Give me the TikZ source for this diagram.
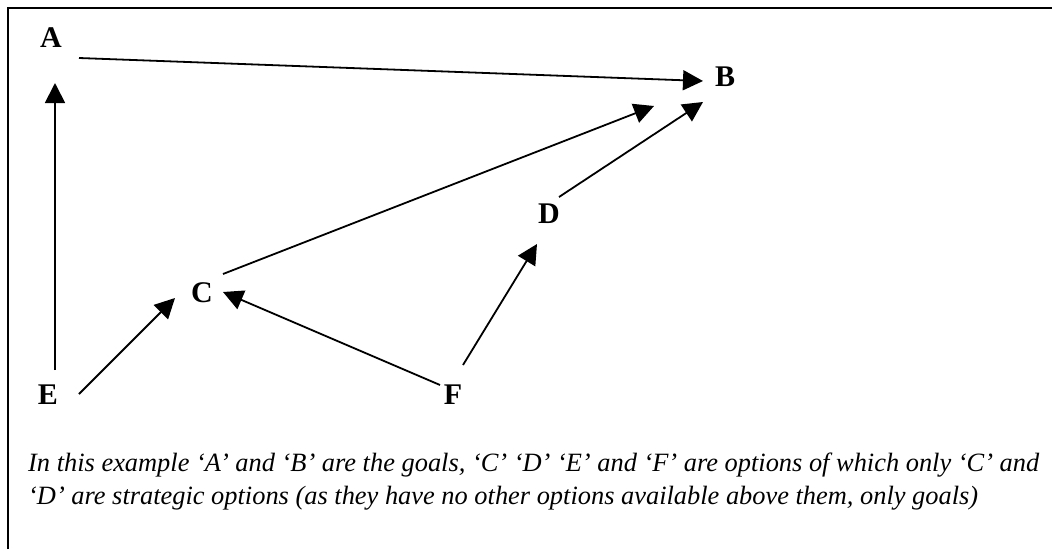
\documentclass[tikz,border=0pt]{standalone}
\usepackage{fontspec}
\setmainfont{Liberation Serif}
\usetikzlibrary{arrows.meta,calc}
\begin{document}
\begin{tikzpicture}[x=1pt,y=-1pt,
  lbl/.style={inner sep=0pt,font=\fontsize{30}{34}\selectfont\bfseries},
  captext/.style={inner sep=0pt,anchor=base west,font=\fontsize{26.4}{33}\selectfont\itshape},
  arr/.style={line width=1.8pt,-{Triangle[length=20pt,width=20pt]}},
  borderline/.style={line width=2pt}]
\useasboundingbox (0,0) rectangle (1052,549);
\draw[borderline] (8,549) -- (8,8) -- (1052,8);
\node[lbl] (A) at (51,38) {A};
\node[lbl] (B) at (725,77) {B};
\node[lbl] (C) at (202,293) {C};
\node[lbl] (D) at (549,214) {D};
\node[lbl] (E) at (48,395) {E};
\node[lbl] (F) at (453,395) {F};
\draw[arr] ($(A)+(28,20)$) -- ($(B)+(-22,4)$);
\draw[arr] ($(E)+(7,-25)$) -- ($(A)+(4,45)$);
\draw[arr] ($(E)+(31,-1)$) -- ($(C)+(-27,5)$);
\draw[arr] ($(F)+(-13,-10)$) -- ($(C)+(21,-1)$);
\draw[arr] ($(F)+(10,-30)$) -- ($(D)+(-12,30)$);
\draw[arr] ($(C)+(21,-19)$) -- ($(B)+(-71,29)$);
\draw[arr] ($(D)+(10,-17)$) -- ($(B)+(-22,25)$);
\node[captext] (t1) at (28,471) {In this example ‘A’ and ‘B’ are the goals, ‘C’ ‘D’ ‘E’ and ‘F’ are options of which only ‘C’ and};
\node[captext] (t2) at (28,504) {‘D’ are strategic options (as they have no other options available above them, only goals)};
\end{tikzpicture}
\end{document}
